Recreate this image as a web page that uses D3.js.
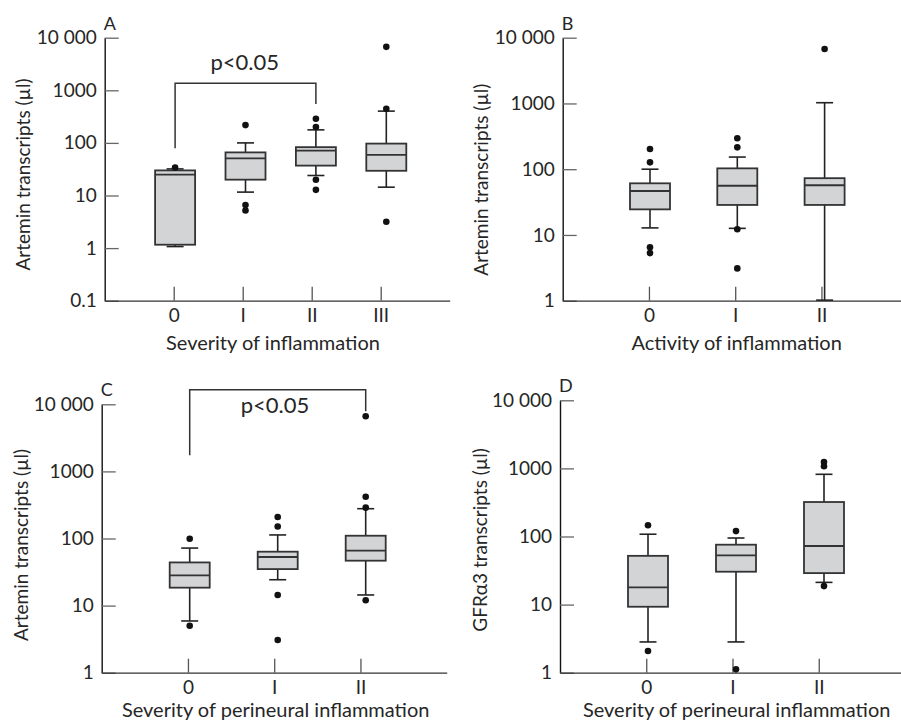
<!DOCTYPE html>
<html>
<head>
<meta charset="utf-8">
<script src="https://cdn.jsdelivr.net/npm/d3@7"></script>
<style>
  body { margin: 0; background: #fff; }
  svg text { font-family: Lato, "Open Sans", sans-serif; fill: #262626; }
</style>
</head>
<body>
<div id="chart"></div>
<script>
(function () {

  // box stats per category: [whisker low, q1, median, q3, whisker high]
  const labelsA = ['0', 'I', 'II', 'III']
  const statsA = [
    [1.07, 1.16, 25, 30, 32],
    [11.6, 20, 51, 66, 100],
    [24, 37, 71, 83, 177],
    [14.4, 29.5, 59, 97, 402]
  ]
  const outliersA = [[34], [218, 6.6, 5.2], [287, 200, 19.9, 12.8], [6700, 445, 3.16]]

  const labelsB = ['0', 'I', 'II']
  const statsB = [
    [12.8, 24.5, 46.6, 61, 100],
    [12.6, 28.6, 56, 103, 153],
    [1.02, 28.6, 57, 73, 1026]
  ]
  const outliersB = [[203, 127, 6.5, 5.3], [295, 215, 12.2, 3.1], [6730]]

  const labelsC = ['0', 'I', 'II']
  const statsC = [
    [5.9, 18.5, 28.3, 44, 72],
    [24.3, 35, 53, 63.6, 113],
    [14.4, 46.7, 65.8, 110, 278]
  ]
  const outliersC = [[99, 5.0], [209, 151, 14.4, 3.07], [6620, 420, 288, 12]]

  const labelsD = ['0', 'I', 'II']
  const statsD = [
    [2.83, 9.3, 17.9, 52, 108],
    [2.83, 30.4, 53, 75.8, 95],
    [21.2, 29, 72.5, 321, 819]
  ]
  const outliersD = [[146, 2.08], [120, 1.12], [1242, 1074, 18.7]]

  const ticksA = [0.1, 1, 10, 100, 1000, 10000]
  const ticksBCD = [1, 10, 100, 1000, 10000]

  const svg = d3.select("#chart").append("svg")
      .attr("width", 901)
      .attr("height", 724)

  const panels = [
    { letter: 'A', labels: labelsA, stats: statsA, outliers: outliersA, ticks: ticksA,
      left: 104.7, top: 37.7, bottom: 300.7, step: 70.4,
      ytitle: 'Artemin transcripts (µl)', ytx: 23, yty: 174.5,
      xtitle: 'Severity of inflammation', xtx: 273, xty: 350,
      sig: { from: 0, to: 2, y: 83.3, leftEnd: 148.3, rightEnd: 104, textY: 70, textX: 244.7 } },
    { letter: 'B', labels: labelsB, stats: statsB, outliers: outliersB, ticks: ticksBCD,
      left: 562.7, top: 37.7, bottom: 300.7, step: 87.3,
      ytitle: 'Artemin transcripts (µl)', ytx: 481.7, yty: 179.7,
      xtitle: 'Activity of inflammation', xtx: 736.7, xty: 350 },
    { letter: 'C', labels: labelsC, stats: statsC, outliers: outliersC, ticks: ticksBCD,
      left: 101.7, top: 404.3, bottom: 672.7, step: 88,
      ytitle: 'Artemin transcripts (µl)', ytx: 21.7, yty: 545,
      xtitle: 'Severity of perineural inflammation', xtx: 275.7, xty: 717,
      sig: { from: 0, to: 2, y: 389.7, leftEnd: 455.3, rightEnd: 411.3, textY: 412.7, textX: 275 } },
    { letter: 'D', labels: labelsD, stats: statsD, outliers: outliersD, ticks: ticksBCD,
      left: 560, top: 400.3, bottom: 672.7, step: 88,
      ytitle: 'GFRα3 transcripts (µl)', ytx: 480, yty: 540,
      xtitle: 'Severity of perineural inflammation', xtx: 736.7, xty: 717 }
  ]

  const boxWidth = 40
  const capWidth = 17

  panels.forEach(drawPanel)

  function drawPanel (p) {
    const g = svg.append("g")
    const n = p.labels.length

    const yScale = d3.scaleLog()
      .domain([p.ticks[0], 10000])
      .range([p.bottom, p.top])

    const xScale = d3.scaleLinear()
      .domain([0, n + 1])
      .range([p.left, Math.min(p.left + (n + 1) * p.step, p.left + 345)])

    const xPos = i => p.left + (i + 1) * p.step

    // y axis, ticks inside
    const yAxis = d3.axisLeft(yScale)
      .tickValues(p.ticks)
      .tickSize(-14)
      .tickSizeOuter(0)
      .tickPadding(8)
      .tickFormat(d => d === 10000 ? '10 000' : String(d))
    const ya = g.append("g")
      .attr("transform", "translate(" + p.left + ",0)")
      .call(yAxis)
    ya.select(".domain").attr("stroke", "#111").attr("stroke-width", 1.4)
    ya.selectAll(".tick line").attr("stroke", "#666").attr("stroke-width", 1.3)
    ya.selectAll(".tick text")
      .attr("font-size", 19)
      .attr("font-family", "Lato, sans-serif")
      .attr("fill", "#262626")

    // x axis, category ticks pointing up
    const xAxis = d3.axisBottom(xScale)
      .tickValues(d3.range(1, n + 1))
      .tickSize(-14)
      .tickSizeOuter(0)
      .tickPadding(8)
      .tickFormat(d => p.labels[d - 1])
    const xa = g.append("g")
      .attr("transform", "translate(0," + p.bottom + ")")
      .call(xAxis)
    xa.select(".domain").attr("stroke", "#333").attr("stroke-width", 1.3)
    xa.selectAll(".tick line").attr("stroke", "#555").attr("stroke-width", 1.3)
    xa.selectAll(".tick text")
      .attr("font-size", 19)
      .attr("font-family", "Lato, sans-serif")
      .attr("fill", "#262626")

    // whiskers
    const boxes = g.selectAll(".box")
      .data(p.stats)
      .join("g")
      .attr("class", "box")

    boxes.append("line")
      .attr("x1", (d, i) => xPos(i))
      .attr("x2", (d, i) => xPos(i))
      .attr("y1", d => yScale(d[0]))
      .attr("y2", d => yScale(d[4]))
      .attr("stroke", "#222")
      .attr("stroke-width", 1.6)

    boxes.selectAll(".cap")
      .data((d, i) => [[d[0], i], [d[4], i]])
      .join("line")
      .attr("class", "cap")
      .attr("x1", d => xPos(d[1]) - capWidth / 2)
      .attr("x2", d => xPos(d[1]) + capWidth / 2)
      .attr("y1", d => yScale(d[0]))
      .attr("y2", d => yScale(d[0]))
      .attr("stroke", "#222")
      .attr("stroke-width", 1.6)

    boxes.append("rect")
      .attr("x", (d, i) => xPos(i) - boxWidth / 2)
      .attr("width", boxWidth)
      .attr("y", d => yScale(d[3]))
      .attr("height", d => yScale(d[1]) - yScale(d[3]))
      .attr("fill", "#d3d4d6")
      .attr("stroke", "#333")
      .attr("stroke-width", 1.8)

    boxes.append("line")
      .attr("x1", (d, i) => xPos(i) - boxWidth / 2)
      .attr("x2", (d, i) => xPos(i) + boxWidth / 2)
      .attr("y1", d => yScale(d[2]))
      .attr("y2", d => yScale(d[2]))
      .attr("stroke", "#333")
      .attr("stroke-width", 1.8)

    // outliers
    const points = []
    p.outliers.forEach((list, i) => list.forEach(v => points.push({ i: i, v: v })))
    g.selectAll(".dot")
      .data(points)
      .join("circle")
      .attr("class", "dot")
      .attr("cx", d => xPos(d.i))
      .attr("cy", d => yScale(d.v))
      .attr("r", 3.3)
      .attr("fill", "#111")

    // significance bracket
    if (p.sig) {
      const s = p.sig
      g.append("path")
        .attr("d", "M" + xPos(s.from) + "," + s.leftEnd +
                   "V" + s.y + "H" + xPos(s.to) + "V" + s.rightEnd)
        .attr("fill", "none")
        .attr("stroke", "#333")
        .attr("stroke-width", 1.5)
      g.append("text")
        .attr("x", s.textX)
        .attr("y", s.textY)
        .attr("text-anchor", "middle")
        .attr("font-size", 22)
        .text("p<0.05")
    }

    // panel letter
    g.append("text")
      .attr("x", p.left - 1)
      .attr("y", p.top - 8)
      .attr("font-size", 18)
      .text(p.letter)

    // axis titles
    g.append("text")
      .attr("transform", "translate(" + p.ytx + "," + p.yty + ") rotate(-90)")
      .attr("text-anchor", "middle")
      .attr("dy", "0.35em")
      .attr("font-size", 19)
      .text(p.ytitle)

    g.append("text")
      .attr("x", p.xtx)
      .attr("y", p.xty)
      .attr("text-anchor", "middle")
      .attr("font-size", 20)
      .text(p.xtitle)
  }

})();
</script>
</body>
</html>
